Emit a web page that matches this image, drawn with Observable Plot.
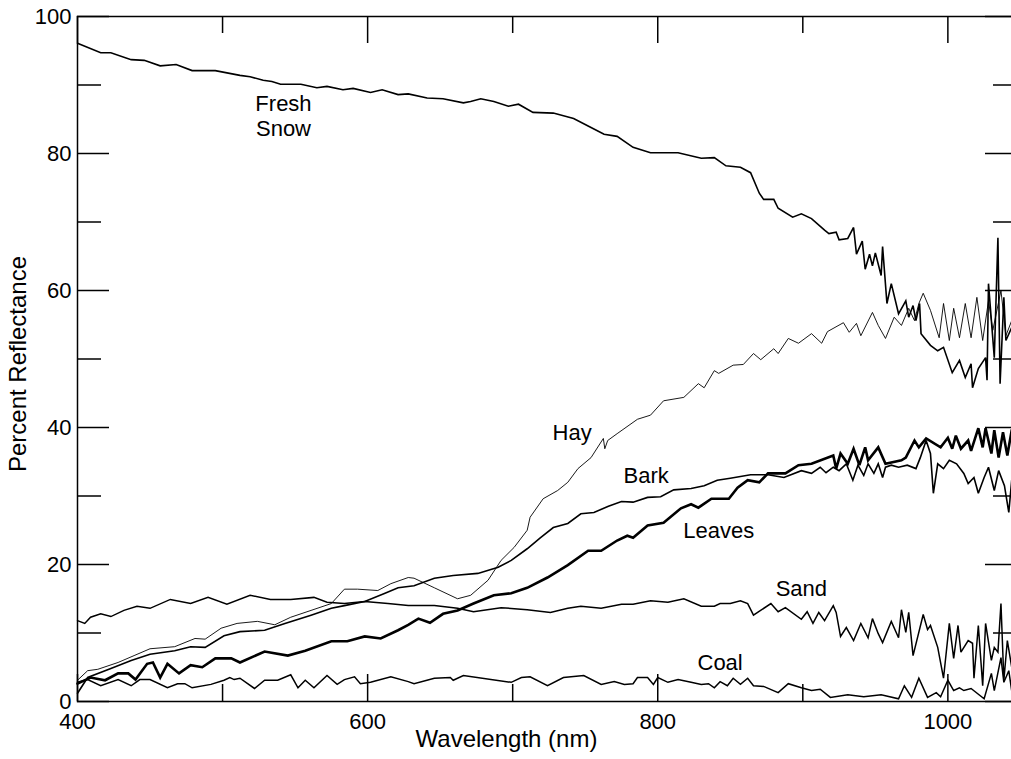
<!DOCTYPE html>
<html>
<head>
<meta charset="utf-8">
<script src="https://cdn.jsdelivr.net/npm/d3@7"></script>
<script src="https://cdn.jsdelivr.net/npm/@observablehq/plot@0.6"></script>
<style>
  html, body { margin: 0; padding: 0; background: #fff; overflow: hidden; }
  #chart svg { display: block; font-family: "Liberation Sans", Arial, sans-serif; }
</style>
</head>
<body>
<div id="chart"></div>
<script>
// ---- Data: [wavelength nm, percent reflectance] ----
const freshSnow = [[400,96.1],[416,94.7],[423,94.7],[437,93.7],[446,93.6],[457,92.8],[468,93.0],[479,92.1],[495,92.1],[512,91.4],[519,91.2],[528,90.7],[534,90.5],[540,90.1],[554,90.1],[565,89.6],[572,89.8],[583,89.3],[590,89.5],[602,88.9],[610,89.3],[621,88.6],[628,88.7],[641,88.1],[652,88.0],[666,87.4],[671,87.6],[678,88.0],[687,87.6],[697,86.9],[704,87.2],[714,86.0],[728,85.9],[742,85.1],[754,83.8],[763,82.8],[772,82.5],[783,80.9],[795,80.1],[814,80.1],[830,79.3],[839,79.4],[847,78.2],[857,78.0],[864,77.2],[870,74.2],[873,73.3],[880,73.3],[883,72.0],[893,70.7],[899,71.2],[906,70.5],[915,68.8],[918,68.3],[923,68.5],[925,67.4],[931,67.6],[935,69.2],[937,65.3],[941,67.2],[943,63.1],[946,65.3],[948,63.6],[950,65.5],[954,62.2],[955,66.4],[958,58.1],[961,61.0],[966,56.6],[971,58.5],[973,56.1],[976,57.8],[978,55.6],[980.5,58.1],[981.5,53.7],[988,52.0],[993,51.2],[997,51.7],[1003,48.0],[1008,49.8],[1012,47.3],[1016,49.3],[1017,45.8],[1021,48.6],[1026,50.2],[1027,46.9],[1028,61.0],[1032,50.2],[1034.5,67.7],[1036,46.4],[1038.6,59.0],[1040,52.7],[1044,54.6]];

const hay = [[400,3.1],[407,4.5],[414,4.7],[428,5.7],[439,6.7],[450,7.7],[467,8.0],[481,9.2],[488,9.1],[499,10.7],[510,11.4],[524,11.7],[536,11.2],[547,12.3],[561,13.3],[575,14.3],[584,16.4],[593,16.4],[607,16.2],[616,17.2],[628,18.1],[632,18.0],[646,16.6],[662,15.0],[671,15.5],[683,17.7],[692,20.6],[701,22.5],[710,25.0],[712,26.9],[721,29.6],[731,30.8],[738,32.0],[745,34.0],[754,35.6],[762.5,38.4],[763.5,36.9],[765.5,38.1],[772,39.1],[786,41.2],[795,41.8],[804,43.9],[818,44.4],[828,46.4],[832,45.8],[839,48.3],[842,47.9],[852,49.1],[859,49.2],[866,50.8],[871,49.9],[880,51.5],[883,50.8],[890,53.0],[897,52.3],[906,53.7],[913,52.3],[917,54.0],[928,55.3],[932,53.9],[937,55.2],[940,53.4],[948,56.8],[952,54.9],[957,53.0],[963,56.1],[968,54.9],[973,57.4],[977,55.6],[980,58.1],[983,59.6],[988,57.1],[994,53.1],[997,58.1],[1001,52.7],[1004,57.4],[1008,53.1],[1012,58.1],[1016,53.1],[1020,59.0],[1024,52.7],[1028,58.5],[1031,54.2],[1036.6,60.0],[1040,53.4],[1044,55.6]];

const bark = [[400,1.2],[407,3.5],[423,4.8],[437,6.0],[450,6.9],[467,7.4],[478,8.0],[488,7.9],[501,9.6],[512,10.2],[529,10.4],[543,11.4],[561,12.6],[575,13.6],[584,14.0],[598,14.6],[612,15.8],[621,16.6],[632,16.9],[646,18.0],[659,18.4],[676,18.7],[690,19.6],[699,20.6],[710,22.3],[719,23.9],[728,25.4],[738,26.0],[747,27.4],[756,27.6],[766,28.5],[775,29.2],[783,29.1],[793,29.8],[802,29.9],[811,30.9],[823,31.1],[832,31.5],[841,32.3],[850,32.6],[864,33.1],[876,33.1],[887,32.7],[899,33.7],[906,33.3],[912,34.2],[916,33.4],[921,34.2],[925,33.7],[930,34.7],[934.5,32.3],[938,34.5],[942,33.0],[945,34.7],[949,33.3],[952,34.7],[955,32.7],[957,34.2],[961,34.5],[966,34.2],[972,34.5],[978,34.0],[981,35.6],[985,38.1],[988,36.2],[990,30.4],[993,34.7],[997,34.0],[1001,35.2],[1006,34.7],[1011,33.3],[1014,31.8],[1018,32.7],[1021,30.4],[1025,32.7],[1028,34.2],[1032,30.8],[1035,33.7],[1039,31.5],[1042,27.6],[1044,32.3]];

const leaves = [[400,2.6],[409,3.5],[419,3.1],[428,4.1],[435,4.1],[440,3.2],[448,5.5],[452,5.7],[457,3.5],[462,5.5],[470,4.1],[478,5.3],[486,5.0],[495,6.3],[506,6.3],[512,5.7],[529,7.3],[545,6.7],[557,7.4],[575,8.8],[586,8.8],[598,9.5],[609,9.2],[621,10.4],[628,11.2],[635,12.1],[643,11.5],[652,12.8],[662,13.3],[673,14.3],[687,15.5],[699,15.8],[710,16.6],[724,18.1],[738,19.9],[752,22.0],[761,22.0],[772,23.5],[779,24.2],[783,23.9],[793,25.7],[804,26.1],[816,28.2],[823,28.8],[828,28.3],[837,29.6],[849,29.6],[855,31.2],[862,32.3],[870,32.0],[876,33.3],[888,33.3],[897,34.5],[906,34.7],[921,35.9],[923,34.0],[926,36.2],[931,34.7],[935,36.9],[939,34.5],[943,37.1],[945,35.2],[952,37.1],[957,34.7],[968,35.2],[971,35.6],[977,38.1],[980,37.1],[985,38.4],[995,37.1],[1000,38.5],[1003,36.9],[1005.5,38.8],[1009,36.9],[1014,38.1],[1016,36.6],[1021,39.9],[1024,37.1],[1026,39.9],[1030,36.2],[1032,39.6],[1035,35.6],[1038,39.3],[1041,35.9],[1044,39.6]];

const sand = [[400,11.8],[405,11.4],[409,12.3],[416,12.8],[423,12.4],[432,13.3],[441,13.9],[450,13.6],[464,14.9],[478,14.3],[490,15.2],[503,14.2],[519,15.5],[533,14.9],[547,14.9],[563,15.2],[572,14.5],[584,14.3],[598,14.6],[614,14.3],[628,14.0],[646,14.0],[662,13.6],[673,13.1],[692,13.7],[710,13.4],[726,13.0],[738,13.6],[747,13.9],[761,13.6],[775,14.2],[783,14.2],[795,14.7],[807,14.5],[818,15.0],[830,13.9],[839,13.9],[843,14.3],[850,14.3],[857,14.7],[862,14.3],[866,12.6],[878,14.3],[883,13.1],[888,13.7],[899,12.0],[903,13.1],[907,11.4],[911,13.0],[915,11.8],[921,14.0],[923,13.0],[926,9.5],[930,10.8],[935,8.9],[940,11.4],[945,9.3],[948,12.1],[952,9.9],[955,8.6],[961,11.7],[966,9.3],[968,13.4],[971,10.1],[973,13.0],[976,6.7],[983,12.7],[986,10.5],[988,11.1],[993,7.9],[997,3.4],[1001,11.4],[1004,6.3],[1007,11.1],[1009,7.2],[1014,8.9],[1017,8.5],[1018,3.4],[1021,11.1],[1024,2.3],[1026,11.4],[1030,6.0],[1032,7.9],[1034.5,7.2],[1036.6,14.3],[1038.6,3.1],[1041,8.9],[1044,5.0]];

const coal = [[400,2.8],[407,3.2],[416,2.3],[428,3.2],[437,2.3],[443,3.2],[450,3.2],[462,2.0],[469,2.6],[474,2.6],[479,2.0],[492,2.5],[501,3.1],[505,3.5],[508,3.2],[512,3.4],[522,1.9],[529,3.1],[538,3.1],[547,3.9],[552,2.0],[557,3.1],[563,2.0],[572,3.8],[579,2.5],[584,3.2],[591,3.6],[595,2.6],[602,2.8],[616,3.6],[628,2.9],[632,2.6],[646,3.4],[657,3.5],[659,3.1],[666,3.8],[699,2.8],[706,3.5],[712,3.6],[724,2.3],[735,3.5],[749,3.8],[761,2.5],[770,2.9],[777,2.5],[783,2.6],[786,3.5],[793,3.5],[797,2.5],[800,3.5],[807,2.8],[814,3.2],[823,2.8],[830,2.5],[835,2.6],[839,2.0],[843,2.9],[848,2.3],[852,3.4],[857,2.5],[862,3.4],[866,2.3],[873,2.2],[883,1.3],[890,2.6],[899,2.0],[906,1.6],[912,1.8],[919,0.6],[931,1.0],[942,0.7],[954,1.0],[966,0.4],[970,2.3],[975,0.6],[980,3.4],[986,0.6],[992,1.3],[995,0.7],[1000,3.1],[1004,1.6],[1008,2.0],[1011,1.6],[1016,1.9],[1025,0.4],[1030,4.1],[1032,1.6],[1036.6,6.4],[1038.6,2.8],[1042,4.5],[1044,1.6]];

// tick values
const xMajorTicks = [400, 600, 800, 1000];
const xMinorTicks = [500, 700, 900];
const yMajorTicks = [0, 20, 40, 60, 80, 100];
const yMinorTicks = [10, 30, 50, 70, 90];

// curve labels (anchored in data space)
const curveLabels = [
  {name: "Fresh\nSnow", wl: 542, r: 85.5},
  {name: "Hay", wl: 741, r: 39.3},
  {name: "Bark", wl: 792, r: 33.0},
  {name: "Leaves", wl: 842, r: 25.0},
  {name: "Sand", wl: 899, r: 16.6},
  {name: "Coal", wl: 843, r: 5.8}
];

const series = [
  {data: freshSnow, w: 1.6},
  {data: hay, w: 0.9},
  {data: bark, w: 1.6},
  {data: leaves, w: 2.6},
  {data: sand, w: 1.5},
  {data: coal, w: 1.5}
];

const W = 1011, H = 759;
const mL = 77, mT = 16, mB = 58, mR = -6;
const plotW = W - mL - mR, plotH = H - mT - mB;

const tickMarks = (minor) => {
  const xs = minor ? xMinorTicks : xMajorTicks;
  const ys = minor ? yMinorTicks : yMajorTicks;
  const lx = minor ? 17 : 27;
  const ly = minor ? 24 : 32;
  return [
    Plot.tickX(xs, {x: d => d, insetTop: plotH - lx, strokeWidth: 1.5}),
    Plot.tickX(xs, {x: d => d, insetBottom: plotH - lx, strokeWidth: 1.5}),
    Plot.tickY(ys, {y: d => d, insetRight: plotW - ly, strokeWidth: 1.5}),
    Plot.tickY(ys, {y: d => d, insetLeft: plotW - ly, strokeWidth: 1.5})
  ];
};

const chart = Plot.plot({
  width: W,
  height: H,
  marginLeft: mL,
  marginTop: mT,
  marginBottom: mB,
  marginRight: mR,
  style: {fontFamily: "Liberation Sans, Arial, sans-serif", color: "black", background: "white"},
  x: {domain: [400, 1048]},
  y: {domain: [0, 100]},
  marks: [
    ...series.map(s => Plot.line(s.data, {x: d => d[0], y: d => d[1], stroke: "black", strokeWidth: s.w, strokeLinejoin: "miter", strokeMiterlimit: 3})),
    Plot.frame({stroke: "black", strokeWidth: 1.5}),
    ...tickMarks(false),
    ...tickMarks(true),
    Plot.axisX({ticks: xMajorTicks, tickSize: 0, tickPadding: 12, fontSize: 22, label: null, tickFormat: d3.format("d")}),
    Plot.axisY({ticks: yMajorTicks, tickSize: 0, tickPadding: 6, fontSize: 22, label: null, tickFormat: d3.format("d")}),
    Plot.text(curveLabels, {x: "wl", y: "r", text: "name", fontSize: 22, fill: "black", lineHeight: 1.1}),
    Plot.text(["Wavelength (nm)"], {frameAnchor: "bottom", textAnchor: "middle", dx: -41, dy: 45, fontSize: 24, fill: "black"}),
    Plot.text(["Percent Reflectance"], {frameAnchor: "left", textAnchor: "middle", rotate: -90, dx: -59, dy: 5, fontSize: 24, fill: "black"})
  ]
});

document.getElementById("chart").appendChild(chart);
</script>
</body>
</html>
